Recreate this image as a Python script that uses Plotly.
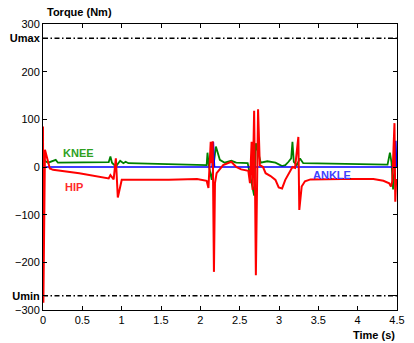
import plotly.graph_objects as go

# ---------------- data ----------------
hip_t = [0.000, 0.005, 0.025, 0.054, 0.087, 0.128, 0.461, 0.835, 0.857, 0.898, 0.926, 0.951,
         1.001, 1.085, 1.334, 1.60, 1.958, 2.08, 2.103, 2.132, 2.145, 2.157, 2.173, 2.186, 2.207,
         2.29, 2.394, 2.456, 2.519, 2.610, 2.631, 2.652, 2.665, 2.684, 2.697, 2.706, 2.734,
         2.756, 2.797, 2.830, 2.893, 2.955, 2.996, 3.039, 3.080, 3.121, 3.155, 3.171, 3.204,
         3.246, 3.258, 3.288, 3.33, 3.40, 3.80, 4.20, 4.327, 4.401, 4.423, 4.440, 4.468, 4.478, 4.49]
hip_v = [85, -285, 36, 16, -3, -6, -13, -24, -17, -26, 18, -64,
         -27, -27, -27, -27, -25, -29, -44, 53, 8, 54, -220, -34, -13,
         4, 11, 0, -5, -8, -34, 53, -48, 118, -69, -227, 121,
         4, 0, -13, -19, -27, -43, -45, -27, -15, -6, 0, -2,
         63, -90, -41, -30, -26, -25, -25, -29, -34, -41, -30, 92, -73, -25]

knee_t = [0.000, 0.034, 0.066, 0.162, 0.190, 0.835, 0.857, 0.877, 0.926, 0.981, 1.022, 1.051,
          1.085, 1.583, 2.00, 2.080, 2.091, 2.107, 2.145, 2.198, 2.248, 2.310, 2.394, 2.456,
          2.602, 2.684, 2.706, 2.768, 2.852, 2.955, 3.039, 3.080, 3.121, 3.155, 3.171, 3.188,
          3.226, 3.267, 3.308, 3.60, 4.00, 4.380, 4.410, 4.430, 4.450, 4.47, 4.49]
knee_v = [15, 11, 9, 15, 9, 10, 22, 9, 1, 13, 8, 11,
          8, 6, 4, 4, 30, 4, -27, 43, 15, 9, 13, 9,
          8, -60, 50, 9, 12, 9, 2, 4, 11, 18, 53, 11,
          4, 18, 8, 7, 6, 5, 30, 10, -47, 0, 2]

ankle_t = [0.0, 2.15, 2.165, 2.18, 4.475, 4.485, 4.495, 4.5]
ankle_v = [0, 0, 53, 0, 0, 55, 0, 0]

u_max = 270
u_min = -270
x_ticks = [0, 0.5, 1, 1.5, 2, 2.5, 3, 3.5, 4, 4.5]
x_ticktext = ["0", "0.5", "1", "1.5", "2", "2.5", "3", "3.5", "4", "4.5"]
y_ticks = [-300, -270, -200, -100, 0, 100, 200, 270, 300]
y_ticktext = ["\u2212300", "<b>Umin</b>", "\u2212200", "\u2212100", "0", "100", "200", "<b>Umax</b>", "300"]

FONT = "Liberation Sans, Arial, sans-serif"

fig = go.Figure()
fig.add_trace(go.Scatter(x=[0, 4.5], y=[u_max, u_max], mode="lines",
                         line=dict(color="black", width=1.5, dash="5px,2.5px,1.5px,2.5px"),
                         hoverinfo="skip"))
fig.add_trace(go.Scatter(x=[0, 4.5], y=[u_min, u_min], mode="lines",
                         line=dict(color="black", width=1.5, dash="5px,2.5px,1.5px,2.5px"),
                         hoverinfo="skip"))
fig.add_trace(go.Scatter(x=knee_t, y=knee_v, mode="lines", name="KNEE",
                         line=dict(color="#008000", width=1.8)))
fig.add_trace(go.Scatter(x=ankle_t, y=ankle_v, mode="lines", name="ANKLE",
                         line=dict(color="#0000ff", width=1.6)))
fig.add_trace(go.Scatter(x=hip_t, y=hip_v, mode="lines", name="HIP",
                         line=dict(color="#ff0000", width=2)))

fig.add_annotation(x=0.455, y=28.7, text="<b>KNEE</b>", showarrow=False,
                   font=dict(family=FONT, size=11, color="#2ea01e"))
fig.add_annotation(x=0.40, y=-41, text="<b>HIP</b>", showarrow=False,
                   font=dict(family=FONT, size=11, color="#ff2a2a"))
fig.add_annotation(x=3.68, y=-17, text="<b>ANKLE</b>", showarrow=False,
                   font=dict(family=FONT, size=11, color="#4040ff"))

fig.add_annotation(xref="paper", yref="paper", x=0.005, y=1.0, yshift=12,
                   xanchor="left", yanchor="middle", text="<b>Torque (Nm)</b>", showarrow=False,
                   font=dict(family=FONT, size=11, color="black"))
fig.add_annotation(xref="paper", yref="paper", x=1.0, y=0, yshift=-25,
                   xanchor="right", yanchor="middle", text="<b>Time (s)</b>", showarrow=False,
                   font=dict(family=FONT, size=11, color="black"))

fig.update_layout(
    width=414, height=343,
    margin=dict(l=43, r=9, t=24, b=33),
    paper_bgcolor="white", plot_bgcolor="white",
    showlegend=False,
    font=dict(family=FONT, size=11, color="black"),
)
fig.update_xaxes(range=[0, 4.5], tickvals=x_ticks, ticktext=x_ticktext,
                 showline=True, linecolor="black", linewidth=1, mirror="allticks",
                 ticks="inside", ticklen=4, tickcolor="black", showgrid=False, zeroline=False)
fig.update_yaxes(range=[-300, 300], tickvals=y_ticks, ticktext=y_ticktext,
                 showline=True, linecolor="black", linewidth=1, mirror="allticks",
                 ticks="inside", ticklen=4, tickcolor="black", showgrid=False, zeroline=False)

fig.write_html("out.html")
